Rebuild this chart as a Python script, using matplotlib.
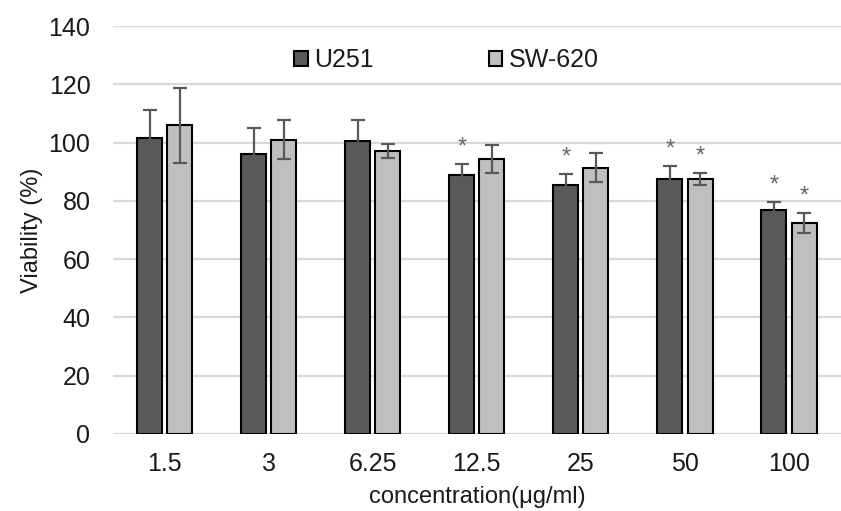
import numpy as np
import matplotlib.pyplot as plt

plt.rcParams['font.family'] = ['Liberation Sans', 'DejaVu Sans']

# concentrations and viability values
conc = ['1.5', '3', '6.25', '12.5', '25', '50', '100']
u251 = [101.6, 96.0, 100.4, 88.9, 85.4, 87.5, 76.8]
u251_err = [9.6, 9.0, 7.3, 3.8, 3.9, 4.4, 2.9]
sw620 = [105.9, 101.0, 97.1, 94.3, 91.3, 87.5, 72.5]
sw620_err = [13.0, 6.8, 2.5, 4.7, 5.0, 2.2, 3.4]
u251_sig = [False, False, False, True, True, True, True]
sw620_sig = [False, False, False, False, False, True, True]

x = np.arange(len(conc))
w = 0.24
off = 0.145

fig = plt.figure(figsize=(8.41, 5.11), dpi=100)
ax = fig.add_axes([0.134, 0.151, 0.866, 0.798])

ekw = dict(ecolor='#595959', elinewidth=1.6, capsize=5, capthick=1.6)
ax.bar(x - off, u251, w, yerr=u251_err, color='#595959', edgecolor='black',
       linewidth=1.5, label='U251', error_kw=ekw, zorder=3)
ax.bar(x + off, sw620, w, yerr=sw620_err, color='#bfbfbf', edgecolor='black',
       linewidth=1.5, label='SW-620', error_kw=ekw, zorder=3)

# significance stars
for i in range(len(conc)):
    if u251_sig[i]:
        ax.text(x[i] - off, u251[i] + u251_err[i] + 1.8, '*', ha='center',
                va='bottom', fontsize=17, color='#666666')
    if sw620_sig[i]:
        ax.text(x[i] + off, sw620[i] + sw620_err[i] + 1.8, '*', ha='center',
                va='bottom', fontsize=17, color='#666666')

ax.set_xlim(-0.5, len(conc) - 0.5)
ax.set_ylim(0, 140)
ax.set_yticks(range(0, 141, 20))
ax.set_xticks(x)
ax.set_xticklabels(conc)
ax.tick_params(axis='both', length=0, labelsize=18, colors='#1a1a1a')
ax.tick_params(axis='x', pad=13)
ax.tick_params(axis='y', pad=16)
ax.grid(axis='y', color='#d9d9d9', linewidth=1.6, zorder=0)
ax.set_axisbelow(True)
for s in ax.spines.values():
    s.set_visible(False)

ax.set_ylabel('Viability (%)', fontsize=17, labelpad=4, color='#1a1a1a')
ax.set_xlabel('concentration(μg/ml)', fontsize=17, labelpad=7, color='#1a1a1a')

ax.legend(loc='center', bbox_to_anchor=(0.458, 0.917), ncol=2, frameon=False,
          fontsize=18, handlelength=0.55, handleheight=0.55, handletextpad=0.25,
          columnspacing=4.6, labelcolor='#1a1a1a')

plt.savefig('out.png', dpi=100)
